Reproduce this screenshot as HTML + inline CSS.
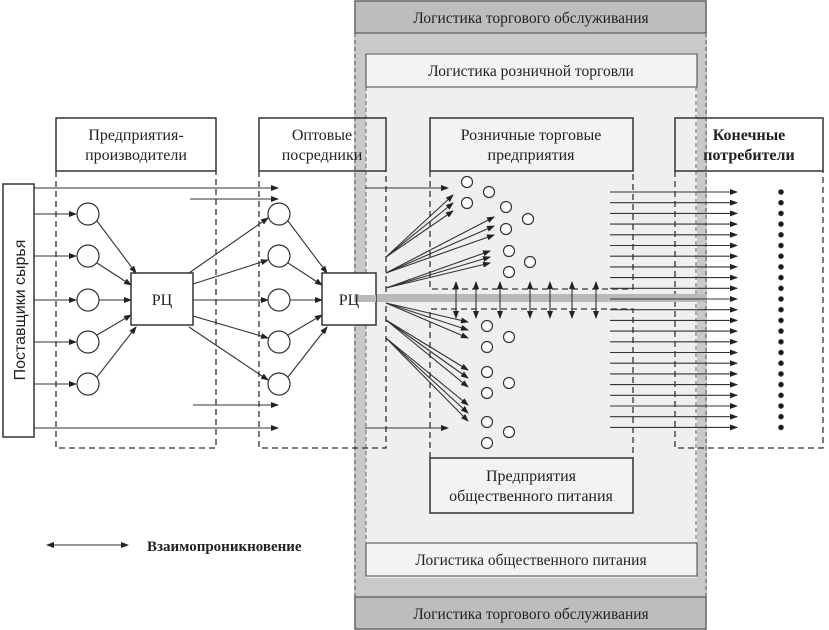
<!DOCTYPE html>
<html><head><meta charset="utf-8"><style>
html,body{margin:0;padding:0;background:#fff}
svg{display:block}
text{font-family:"Liberation Serif","DejaVu Serif",serif;fill:#222}
</style></head><body>
<svg id="s" width="829" height="630" viewBox="0 0 829 630" xmlns="http://www.w3.org/2000/svg">
<defs>
<marker id="a" markerWidth="8" markerHeight="6" refX="7" refY="3" orient="auto" markerUnits="userSpaceOnUse"><path d="M0,0 L8,3 L0,6 z" fill="#222"/></marker>
<marker id="b" markerWidth="8" markerHeight="6" refX="1" refY="3" orient="auto" markerUnits="userSpaceOnUse"><path d="M8,0 L0,3 L8,6 z" fill="#222"/></marker>
</defs>
<rect x="354" y="0" width="353" height="630" fill="#c9c9c9"/>
<rect x="366" y="53" width="331" height="525" fill="#efefef"/>
<rect x="355" y="1" width="351" height="32" fill="#bdbdbd" stroke="#444" stroke-width="1"/>
<rect x="355" y="597" width="351" height="32" fill="#bdbdbd" stroke="#444" stroke-width="1"/>
<line x1="355" y1="33" x2="355" y2="597" stroke="#555" stroke-dasharray="4,3"/>
<line x1="706" y1="33" x2="706" y2="597" stroke="#555" stroke-dasharray="4,3"/>
<rect x="366" y="54" width="331" height="33" fill="#f3f3f3" stroke="#444"/>
<rect x="366" y="543" width="331" height="33" fill="#f3f3f3" stroke="#444"/>
<line x1="366" y1="87" x2="366" y2="543" stroke="#666" stroke-dasharray="4,3"/>
<line x1="696" y1="87" x2="696" y2="543" stroke="#666" stroke-dasharray="4,3"/>
<text x="531" y="23" font-size="15.5" text-anchor="middle">Логистика торгового обслуживания</text>
<text x="531" y="76" font-size="15.5" text-anchor="middle">Логистика розничной торговли</text>
<text x="531" y="565" font-size="15.5" text-anchor="middle">Логистика общественного питания</text>
<text x="531" y="619" font-size="15.5" text-anchor="middle">Логистика торгового обслуживания</text>

<rect x="708" y="171" width="115" height="277" fill="#fff"/>

<rect x="3" y="184" width="31" height="253" fill="#fff" stroke="#333" stroke-width="1.5"/>
<text transform="translate(25,310) rotate(-90)" font-size="16" text-anchor="middle" style="font-family:'Liberation Sans',sans-serif">Поставщики сырья</text>

<g fill="#fff" stroke="#333" stroke-width="1.5">
<rect x="56" y="118" width="160" height="53"/>
<rect x="259" y="118" width="127" height="53" fill="none"/>
<rect x="430" y="118" width="203" height="53" fill="#f3f3f3"/>
<rect x="675" y="118" width="148" height="53" fill="none"/>
<rect x="430" y="458" width="203" height="55" fill="#f3f3f3"/>
</g>
<text x="136" y="140" font-size="16" text-anchor="middle">Предприятия-</text>
<text x="136" y="160" font-size="16" text-anchor="middle">производители</text>
<text x="322" y="140" font-size="16" text-anchor="middle">Оптовые</text>
<text x="322" y="160" font-size="16" text-anchor="middle">посредники</text>
<text x="531" y="140" font-size="16" text-anchor="middle">Розничные торговые</text>
<text x="531" y="160" font-size="16" text-anchor="middle">предприятия</text>
<text x="749" y="140" font-size="16" text-anchor="middle" font-weight="bold">Конечные</text>
<text x="749" y="160" font-size="16" text-anchor="middle" font-weight="bold">потребители</text>
<text x="531" y="481" font-size="16" text-anchor="middle">Предприятия</text>
<text x="531" y="501" font-size="16" text-anchor="middle">общественного питания</text>

<g fill="none" stroke="#333" stroke-width="1.3" stroke-dasharray="6,4">
<path d="M56,171 V448 H216 V171"/>
<path d="M259,171 V448 H386 V171"/>
<path d="M430,171 V289 H633 V171"/>
<path d="M430,458 V309 H633 V458"/>
<path d="M675,171 V448 H823 V171"/>
</g>

<rect x="365" y="294" width="342" height="8" fill="#b9b9b9"/>

<g id="lines" stroke="#333" stroke-width="1.1" fill="none"></g>
<g id="circ" fill="#fff" stroke="#333" stroke-width="1.2"></g>

<rect x="131" y="273" width="62" height="52" fill="#fff" stroke="#333" stroke-width="1.5"/>
<text x="162" y="305" font-size="16" text-anchor="middle">РЦ</text>
<rect x="322" y="273" width="54" height="52" fill="#fff" stroke="#333" stroke-width="1.5"/>
<rect x="354" y="295" width="22" height="7" fill="#b9b9b9"/>
<text x="349" y="305" font-size="16" text-anchor="middle">РЦ</text>

<line x1="47" y1="545" x2="128" y2="545" stroke="#333" stroke-width="1.1" marker-start="url(#b)" marker-end="url(#a)"/>
<text x="147" y="551" font-size="15" font-weight="bold">Взаимопроникновение</text>
</svg>
<script>
var L=document.getElementById('lines'),C=document.getElementById('circ'),ns='http://www.w3.org/2000/svg';
function ln(x1,y1,x2,y2,arr,both){var e=document.createElementNS(ns,'line');e.setAttribute('x1',x1);e.setAttribute('y1',y1);e.setAttribute('x2',x2);e.setAttribute('y2',y2);if(arr)e.setAttribute('marker-end','url(#a)');if(both)e.setAttribute('marker-start','url(#b)');L.appendChild(e);}
function ci(x,y,r){var e=document.createElementNS(ns,'circle');e.setAttribute('cx',x);e.setAttribute('cy',y);e.setAttribute('r',r);C.appendChild(e);}
var ys=[214,256,300,342,384];
var inL=[[136,273],[131,285],[131,300],[131,315],[136,327]];
var outR=[[189,273],[193,284],[193,300],[193,316],[189,327]];
var inR=[[327,273],[322,285],[322,300],[322,315],[327,327]];
ys.forEach(function(y,i){ci(88,y,11);ci(279,y,11);ln(34,y,76,y,1);
 var dy=(y-300)/Math.max(1,Math.abs(y-300));
 ln(97,y-dy*7,inL[i][0],inL[i][1],1);
 ln(outR[i][0],outR[i][1],268,y-dy*4,1);
 ln(288,y-dy*7,inR[i][0],inR[i][1],1);});
ln(34,188,278,188,1);ln(190,199,278,199,1);ln(193,405,278,405,1);ln(34,428,278,428,1);
ln(365,188,448,188,1);ln(365,428,448,428,1);
var rc=[[467,182],[489,192],[467,203],[506,207],[528,219],[506,229],[509,251],[530,262],[509,272],[487,326],[509,337],[487,347],[487,372],[509,383],[487,393],[487,422],[509,432],[487,443]];
rc.forEach(function(p){ci(p[0],p[1],5.5);});
var fans=[[257,453,[195,203,211]],[273,494,[217,226,235]],[288,490,[251,257,263]],[303,468,[322,330,338]],[320,468,[370,378,387]],[338,468,[405,413,421]]];
fans.forEach(function(f){f[2].forEach(function(y){ln(386,f[0],f[1],y,1);});});
[456,476,500,530,550,572,596].forEach(function(x){ln(x,282,x,318,1,1);});
for(var i=0;i<23;i++){var y=192+i*10.7;ln(610,y,737,y,1);var d=document.createElementNS(ns,'circle');d.setAttribute('cx',781);d.setAttribute('cy',y);d.setAttribute('r',2.2);d.setAttribute('fill','#111');C.appendChild(d);}
</script>
</body></html>
